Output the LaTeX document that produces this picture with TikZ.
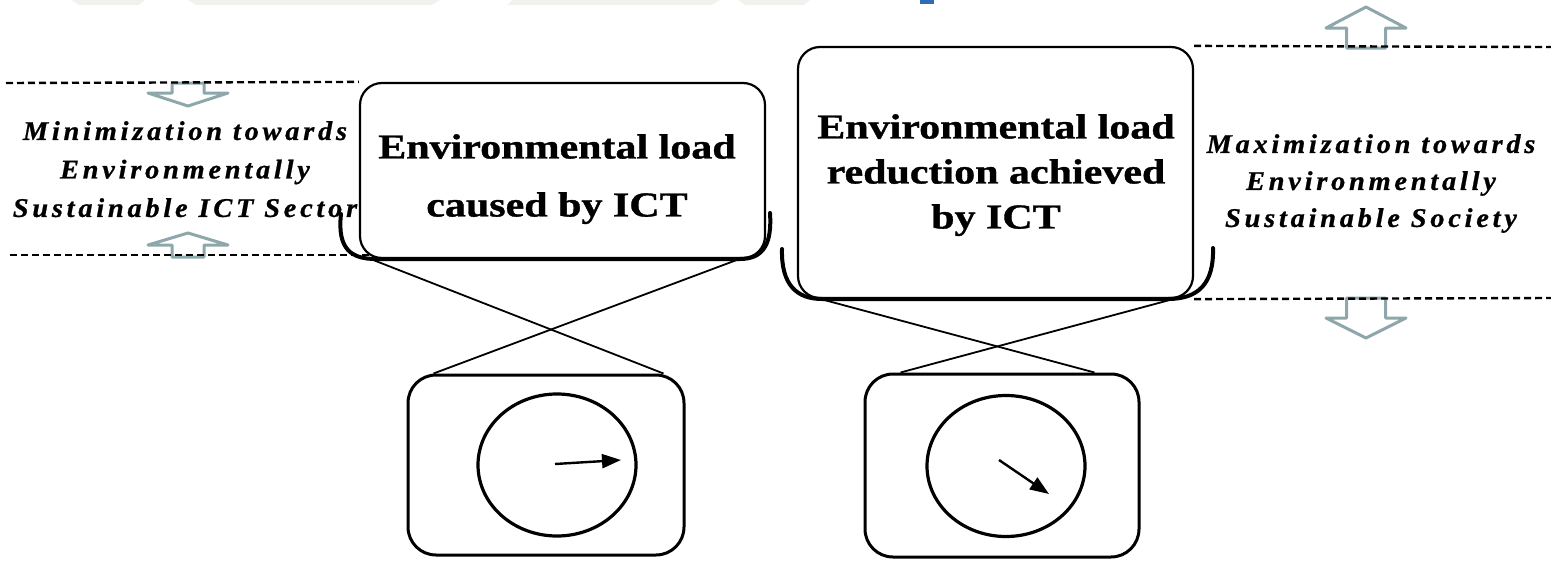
\documentclass[tikz,border=0pt]{standalone}
\usepackage{fontspec}
\setmainfont{Liberation Serif}
\newfontfamily\boxfont[FakeStretch=1.2,FakeBold=1]{Liberation Serif}
\newfontfamily\sidefont[FakeStretch=1.05,LetterSpace=14,FakeBold=0.8]{Liberation Serif}
\usepackage{xcolor}
\usepackage{tikz}
\usetikzlibrary{calc,shapes.geometric,arrows.meta}
\definecolor{hintgray}{HTML}{8DA7AA}
\definecolor{haze}{HTML}{F2F1EE}
\definecolor{pageblue}{HTML}{2E6DB4}
\tikzset{
  boxu/.style={draw, line width=2.2pt, rounded corners=22pt, inner sep=0pt},
  boxl/.style={draw, line width=3pt, rounded corners=28pt, inner sep=0pt},
  dial/.style={draw, ellipse, line width=3.2pt, inner sep=0pt},
  needle/.style={line width=2.4pt, -{Triangle[length=19pt,width=14pt]}},
  bowl/.style={line width=4pt, line cap=round},
  cross/.style={line width=1.8pt},
  guide/.style={dash pattern=on 7pt off 4pt, line width=2.4pt},
  hint/.style={draw=hintgray, line width=3pt, line join=round},
  lab/.style={font=\boxfont\bfseries\fontsize{35}{58}\selectfont, align=center, inner sep=0pt, anchor=north},
  side/.style={font=\sidefont\bfseries\itshape\fontsize{27}{38.5}\selectfont, align=center, inner sep=0pt, anchor=north}
}

\begin{document}
\begin{tikzpicture}[x=1pt, y=-1pt]
  \useasboundingbox (0,0) rectangle (1551,560);

  % page remains at the top edge
  \fill[haze] (72,0) -- (145,0) -- (139,5) -- (79,5) -- cycle;
  \fill[haze] (188,0) -- (440,0) -- (432,5) -- (196,5) -- cycle;
  \fill[haze] (512,0) -- (720,0) -- (712,5) -- (508,5) -- cycle;
  \fill[haze] (738,0) -- (810,0) -- (804,5) -- (745,5) -- cycle;
  \fill[pageblue] (920,0) rectangle (934,4);

  \node[boxu, minimum width=405pt, minimum height=175pt] (up1) at (562.5,170.5) {};
  \node[boxu, minimum width=395pt, minimum height=251pt] (up2) at (995.5,172.5) {};
  \node[boxl, minimum width=276pt, minimum height=180pt] (lo1) at (546,465) {};
  \node[boxl, minimum width=274pt, minimum height=183pt] (lo2) at (1002,465.5) {};

  \node[lab] (txtload) at (557,134) {Environmental load\\caused by ICT};
  \node[lab, font=\boxfont\bfseries\fontsize{35}{45}\selectfont] (txtreduce) at (996,114)
    {Environmental load\\reduction achieved\\by ICT};
  \node[side] (txtmin) at (185,121) {Minimization towards\\Environmentally\\Sustainable ICT Sector};
  \node[side, font=\sidefont\bfseries\itshape\fontsize{27}{37}\selectfont] (txtmax) at (1371,134)
    {Maximization towards\\Environmentally\\Sustainable Society};

  % bowls under the upper boxes
  \draw[bowl] (341,214) .. controls (337,250) and (352,259) .. (376,259) -- (740,259)
    .. controls (764,259) and (772,243) .. (770,213);
  \draw[bowl] (782,249) .. controls (781,285) and (797,299) .. (822,299) -- (1168,299)
    .. controls (1198,299) and (1214,284) .. (1213,248);

  % crossing links
  \draw[cross] ($(up1.south west)+(12,0)$) -- ($(lo1.north east)+(-22,0)$);
  \draw[cross] ($(up1.south east)+(-27,0)$) -- ($(lo1.north west)+(27,0)$);
  \draw[cross] ($(up2.south west)+(24,0)$) -- ($(lo2.north east)+(-46,0)$);
  \draw[cross] ($(up2.south east)+(-21,0)$) -- ($(lo2.north west)+(37,0)$);

  % dials
  \node[dial, minimum width=158pt, minimum height=142pt] (d1) at (557,465) {};
  \node[dial, minimum width=158pt, minimum height=141pt] (d2) at (1006,466) {};
  \coordinate (n1a) at ($(d1.center)+(-2,-1)$);
  \coordinate (n1b) at (621,460);
  \coordinate (n2a) at ($(d2.center)+(-7,-6)$);
  \coordinate (n2b) at (1049,494);
  \draw[needle] (n1a) -- (n1b);
  \draw[needle] (n2a) -- (n2b);

  % hint arrows
  \draw[hint, shift={(188,83)}] (-16,0) -- (-16,10) -- (-40,10) -- (0,23) -- (40,10) -- (16,10) -- (16,0) -- cycle;
  \draw[hint, shift={(188,257)}] (-16,0) -- (-16,-12) -- (-40,-12) -- (0,-24) -- (40,-12) -- (16,-12) -- (16,0) -- cycle;
  \draw[hint, shift={(1366,48)}] (-19.5,0) -- (-19.5,-20) -- (-40,-20) -- (0,-41) -- (40,-20) -- (19.5,-20) -- (19.5,0) -- cycle;
  \draw[hint, shift={(1366,298)}] (-19.5,0) -- (-19.5,20) -- (-40,20) -- (0,40) -- (40,20) -- (19.5,20) -- (19.5,0) -- cycle;

  % dashed guides
  \coordinate (gl1) at (6,83);
  \coordinate (gl2) at (10,255);
  \coordinate (gl3) at (372,255);
  \coordinate (gr1) at (1551,47);
  \coordinate (gr2) at (1551,298);
  \draw[guide] (gl1) -- (up1.north west);
  \draw[guide] (gl2) -- (gl3);
  \draw[guide] (up2.north east) -- (gr1);
  \draw[guide] (up2.south east) -- (gr2);
\end{tikzpicture}
\end{document}
